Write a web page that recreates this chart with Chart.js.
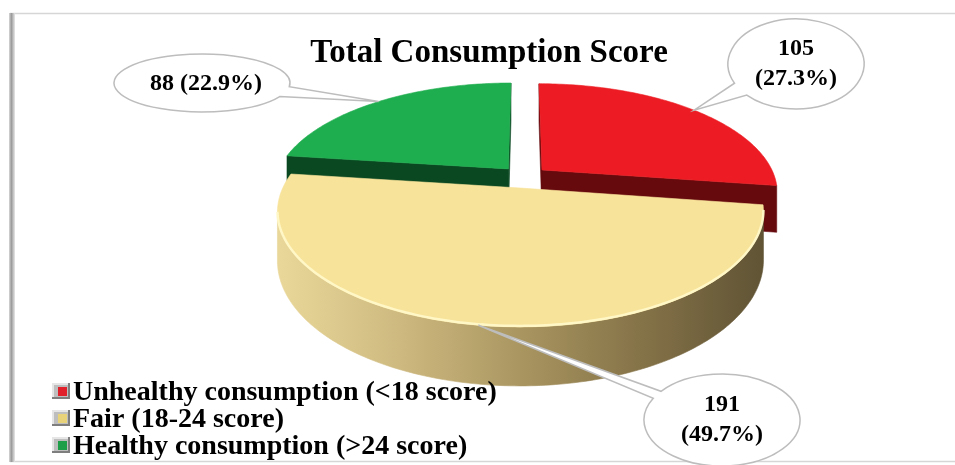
<!DOCTYPE html>
<html>
<head>
<meta charset="utf-8">
<script src="https://cdn.jsdelivr.net/npm/chart.js@4/dist/chart.umd.min.js"></script>
<style>
html,body{margin:0;padding:0;background:#fff;}
#wrap{width:955px;height:465px;}
</style>
</head>
<body>
<div id="wrap"><canvas id="c" width="955" height="465"></canvas></div>
<script>
// ---------- data ----------
const categories = ['Unhealthy consumption (<18 score)', 'Fair (18-24 score)', 'Healthy consumption (>24 score)'];
const counts = [105, 191, 88];
const chartTitle = 'Total Consumption Score';

// ---------- styles ----------
const topColors  = ['#ED1C24', '#F8E39A', '#1FAE4F'];
const cutColors  = ['#660A0E', '#8A7A50', '#0A4822'];
const rimColors  = ['#B5141B', null, '#0E5A2A'];
const legendInner = ['#E0202A', '#E8D27A', '#1E9E48'];

// view (3D projection of the pie plane onto the page)
const VIEW = {cx: 524, cy: 177, rx: 233, ry: 106, persp: 0.2, depth: 46};
// label bubbles layout (index matches data order)
const BUBBLES = [
  {cx: 796, cy: 64,  rx: 68, ry: 45, twoLine: true,  gap: 0.16},
  {cx: 722, cy: 420, rx: 78, ry: 46, twoLine: true,  gap: 0.09},
  {cx: 202, cy: 83,  rx: 88, ry: 29, twoLine: false, gap: 0.18}
];
const SERIF = '"Liberation Serif", "Times New Roman", serif';

function project(u, w, down) {
  const s = 1 / (1 - VIEW.persp * w);
  return {x: VIEW.cx + VIEW.rx * u * s, y: VIEW.cy + VIEW.ry * w * s + (down ? VIEW.depth * s : 0)};
}

function sliceGeom(el) {
  const p = el.getProps(['x', 'y', 'startAngle', 'endAngle', 'outerRadius'], true);
  const R = p.outerRadius;
  const off = (el.options.offset || 0) / 4 / R;
  const mid = (p.startAngle + p.endAngle) / 2;
  const c = {u: Math.cos(mid) * off, w: Math.sin(mid) * off};
  const n = Math.max(8, Math.ceil((p.endAngle - p.startAngle) / (Math.PI / 180)));
  const rim = [];
  for (let i = 0; i <= n; i++) {
    const a = p.startAngle + (p.endAngle - p.startAngle) * i / n;
    rim.push({u: c.u + Math.cos(a), w: c.w + Math.sin(a)});
  }
  const anchor = {u: c.u + Math.cos(mid), w: c.w + Math.sin(mid)};
  return {c, rim, mid, anchor};
}

function polyPath(ctx, pts) {
  ctx.beginPath();
  pts.forEach((q, k) => k ? ctx.lineTo(q.x, q.y) : ctx.moveTo(q.x, q.y));
  ctx.closePath();
}

function yellowSide(ctx) {
  const g = ctx.createLinearGradient(280, 0, 770, 0);
  g.addColorStop(0, '#E9D799');
  g.addColorStop(0.25, '#CDB97F');
  g.addColorStop(0.5, '#A8945F');
  g.addColorStop(0.75, '#837147');
  g.addColorStop(1, '#5E5234');
  return g;
}

function drawSlice(ctx, g, i) {
  const poly = [g.c, ...g.rim];
  const T = poly.map(q => project(q.u, q.w, false));
  const B = poly.map(q => project(q.u, q.w, true));
  const N = poly.length;
  const walls = [];
  // radial walls: edge 0 (c -> rim start) and edge N-1 (rim end -> c)
  [[0, 1], [N - 1, 0]].forEach(([a, b]) => {
    if (T[b].x - T[a].x < 0) {
      walls.push({pts: [T[a], T[b], B[b], B[a]], color: cutColors[i], depth: (poly[a].w + poly[b].w) / 2});
    }
  });
  // rim walls: contiguous visible edges
  let run = null;
  const runs = [];
  for (let k = 1; k < N - 1; k++) {
    const vis = T[k + 1].x - T[k].x < 0;
    if (vis) {
      if (!run) { run = [k]; runs.push(run); }
      run.push(k + 1);
    } else run = null;
  }
  runs.forEach(r => {
    const top = r.map(k => T[k]);
    const bot = r.map(k => B[k]).reverse();
    walls.push({pts: top.concat(bot), color: rimColors[i] || yellowSide(ctx), depth: 2, rim: top});
  });
  walls.sort((a, b) => a.depth - b.depth);
  walls.forEach(w => {
    polyPath(ctx, w.pts);
    ctx.fillStyle = w.color;
    ctx.fill();
    ctx.strokeStyle = w.color;
    ctx.lineWidth = 0.6;
    ctx.stroke();
  });
  // top face
  polyPath(ctx, T);
  ctx.fillStyle = topColors[i];
  ctx.fill();
  ctx.strokeStyle = topColors[i];
  ctx.lineWidth = 0.6;
  ctx.stroke();
  // highlight along the visible front rim
  walls.filter(w => w.rim).forEach(w => {
    ctx.beginPath();
    w.rim.forEach((q, k) => k ? ctx.lineTo(q.x, q.y - 1) : ctx.moveTo(q.x, q.y - 1));
    ctx.strokeStyle = i === 1 ? 'rgba(255,248,200,0.95)' : 'rgba(255,255,255,0.25)';
    ctx.lineWidth = 2.5;
    ctx.stroke();
  });
}

function drawBubble(ctx, b, anchor, lines) {
  const ang = Math.atan2((anchor.y - b.cy) / b.ry, (anchor.x - b.cx) / b.rx);
  ctx.beginPath();
  ctx.ellipse(b.cx, b.cy, b.rx, b.ry, 0, ang + b.gap, ang - b.gap + Math.PI * 2);
  ctx.lineTo(anchor.x, anchor.y);
  ctx.closePath();
  ctx.fillStyle = '#FFFFFF';
  ctx.fill();
  ctx.strokeStyle = '#BDBDBD';
  ctx.lineWidth = 1.5;
  ctx.stroke();
  ctx.fillStyle = '#000';
  ctx.font = 'bold 24px ' + SERIF;
  ctx.textAlign = 'center';
  ctx.textBaseline = 'middle';
  if (lines.length === 2) {
    ctx.fillText(lines[0], b.cx, b.cy - 15);
    ctx.fillText(lines[1], b.cx, b.cy + 15);
  } else {
    ctx.fillText(lines[0], b.cx + 4, b.cy + 1);
  }
}

const pie3d = {
  id: 'pie3d',
  beforeDraw(chart) {
    const ctx = chart.ctx;
    ctx.save();
    ctx.fillStyle = '#fff';
    ctx.fillRect(0, 0, chart.width, chart.height);
    // frame
    ctx.strokeStyle = '#D6D6D6';
    ctx.lineWidth = 1.5;
    ctx.beginPath(); ctx.moveTo(10, 13.5); ctx.lineTo(955, 13.5); ctx.stroke();
    ctx.beginPath(); ctx.moveTo(10, 461.5); ctx.lineTo(955, 461.5); ctx.stroke();
    const lg = ctx.createLinearGradient(9, 0, 15, 0);
    lg.addColorStop(0, '#D8D8D8'); lg.addColorStop(0.4, '#9A9A9A'); lg.addColorStop(1, '#E8E8E8');
    ctx.fillStyle = lg;
    ctx.fillRect(9, 13, 6, 449);
    ctx.restore();
  },
  beforeDatasetsDraw(chart) {
    const ctx = chart.ctx;
    const meta = chart.getDatasetMeta(0);
    const geoms = meta.data.map(sliceGeom);
    const order = geoms.map((g, i) => i).sort((a, b) => geoms[a].c.w - geoms[b].c.w);
    ctx.save();
    order.forEach(i => drawSlice(ctx, geoms[i], i));
    // callouts
    const total = counts.reduce((s, v) => s + v, 0);
    geoms.forEach((g, i) => {
      const a = project(g.anchor.u, g.anchor.w, false);
      const pct = '(' + (counts[i] / total * 100).toFixed(1) + '%)';
      const lines = BUBBLES[i].twoLine ? [String(counts[i]), pct] : [counts[i] + ' ' + pct];
      drawBubble(ctx, BUBBLES[i], a, lines);
    });
    ctx.restore();
    return false;
  },
  afterDraw(chart) {
    const ctx = chart.ctx;
    ctx.save();
    ctx.font = 'bold 28px ' + SERIF;
    ctx.textAlign = 'left';
    ctx.textBaseline = 'alphabetic';
    const base = [400, 427, 454];
    chart.data.labels.forEach((lab, i) => {
      const y = base[i];
      // beveled legend key
      ctx.fillStyle = '#BEBEBE';
      ctx.fillRect(52, y - 17, 18, 16);
      ctx.fillStyle = '#E6E6E6';
      ctx.fillRect(52, y - 17, 18, 2);
      ctx.fillRect(52, y - 17, 2, 16);
      ctx.fillStyle = '#7E7E7E';
      ctx.fillRect(52, y - 3, 18, 2);
      ctx.fillRect(68, y - 17, 2, 16);
      ctx.fillStyle = legendInner[i];
      ctx.fillRect(58, y - 13, 9, 9);
      ctx.fillStyle = '#000';
      ctx.fillText(lab, 73, y);
    });
    ctx.restore();
  }
};

new Chart(document.getElementById('c'), {
  type: 'pie',
  data: {
    labels: categories,
    datasets: [{
      data: counts,
      backgroundColor: topColors,
      borderWidth: 0,
      offset: 62
    }]
  },
  options: {
    responsive: false,
    devicePixelRatio: 1,
    animation: false,
    radius: 150,
    layout: {padding: {left: 23, right: 0, top: 0, bottom: 0}},
    plugins: {
      legend: {display: false},
      tooltip: {enabled: false},
      title: {
        display: true,
        text: chartTitle,
        color: '#000',
        font: {family: SERIF, size: 33, weight: 'bold'},
        padding: {top: 34, bottom: 0}
      }
    }
  },
  plugins: [pie3d]
});
</script>
</body>
</html>
